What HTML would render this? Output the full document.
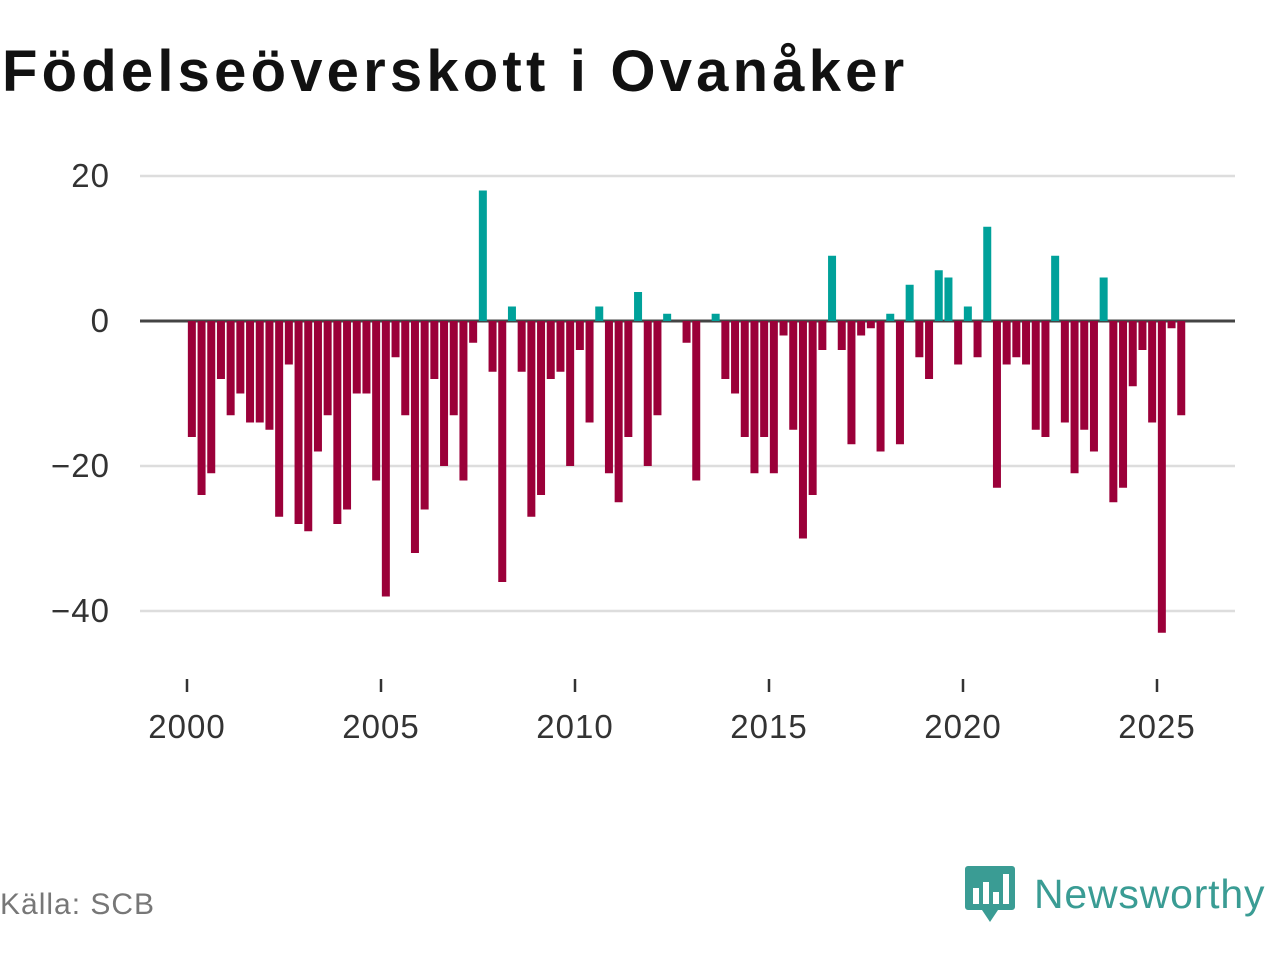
<!DOCTYPE html>
<html><head><meta charset="utf-8"><style>
body{margin:0;width:1280px;height:960px;background:#fff;font-family:"Liberation Sans","DejaVu Sans",sans-serif;overflow:hidden;position:relative}
#title{position:absolute;left:2px;top:38px;font-size:58px;font-weight:bold;color:#111;letter-spacing:4.2px}
#source{position:absolute;left:0;top:888px;font-size:30px;color:#777;letter-spacing:1px}
#logo{position:absolute;left:964px;top:864px;display:flex;align-items:center}
#logo span{font-size:41px;color:#3a9c94;margin-left:18px;letter-spacing:0.8px}
</style></head><body>
<div id="title">Födelseöverskott i Ovanåker</div>
<svg id="chart" width="1280" height="960" style="position:absolute;left:0;top:0"></svg>
<div id="source">Källa: SCB</div>
<div id="logo">
<svg width="52" height="60" viewBox="0 0 52 60"><path d="M4 2h44a3 3 0 0 1 3 3v38a3 3 0 0 1-3 3H34l-8 12-8-12H4a3 3 0 0 1-3-3V5a3 3 0 0 1 3-3z" fill="#3a9c94"/><rect x="9" y="24" width="6" height="16" fill="#fff"/><rect x="19" y="18" width="6" height="22" fill="#fff"/><rect x="29" y="28" width="6" height="12" fill="#fff"/><rect x="39" y="10" width="6" height="30" fill="#fff"/></svg>
<span>Newsworthy</span></div>
<script>
const startYear = 2000;
const values = [-16,-24,-21,-8,-13,-10,-14,-14,-15,-27,-6,-28,-29,-18,-13,-28,-26,-10,-10,-22,-38,-5,-13,-32,-26,-8,-20,-13,-22,-3,18,-7,-36,2,-7,-27,-24,-8,-7,-20,-4,-14,2,-21,-25,-16,4,-20,-13,1,0,-3,-22,0,1,-8,-10,-16,-21,-16,-21,-2,-15,-30,-24,-4,9,-4,-17,-2,-1,-18,1,-17,5,-5,-8,7,6,-6,2,-5,13,-23,-6,-5,-6,-15,-16,9,-14,-21,-15,-18,6,-25,-23,-9,-4,-14,-43,-1,-13];
const yTicks = [20,0,-20,-40];
const yTickLabels = ["20","0","−20","−40"];
const xTicks = [2000,2005,2010,2015,2020,2025];
const NS="http://www.w3.org/2000/svg";
const svg=document.getElementById('chart');
const xs=t=>187+(t-2000)*38.8;
const ys=v=>321-v*7.25;
function mk(tag,attrs){const e=document.createElementNS(NS,tag);for(const k in attrs)e.setAttribute(k,attrs[k]);svg.appendChild(e);return e;}
yTicks.forEach((v,i)=>{
  const g=mk('line',{x1:140,x2:1235,y1:ys(v),y2:ys(v),stroke:v===0?'#444':'#ddd','stroke-width':v===0?3:2.5});
  
  
  const t=mk('text',{x:110,y:ys(v)+11,'text-anchor':'end','font-size':33,fill:'#333','letter-spacing':1});
  t.textContent=yTickLabels[i];
  
  
});
xTicks.forEach(y=>{
  const l=mk('line',{x1:xs(y),x2:xs(y),y1:679,y2:692,stroke:'#333','stroke-width':2.5});
  
  
  const t=mk('text',{x:xs(y),y:738,'text-anchor':'middle','font-size':33,fill:'#333','letter-spacing':1});
  t.textContent=y;
  
  
});
values.forEach((v,i)=>{
  const c=xs(startYear+(i+0.5)/4);
  const y0=ys(Math.max(v,0)),y1=ys(Math.min(v,0));
  const r=mk('rect',{x:c-4,y:y0,width:8,height:Math.max(y1-y0,0),fill:v>=0?'#00a19a':'#9b0039'});
  
  
});
</script>
</body></html>
